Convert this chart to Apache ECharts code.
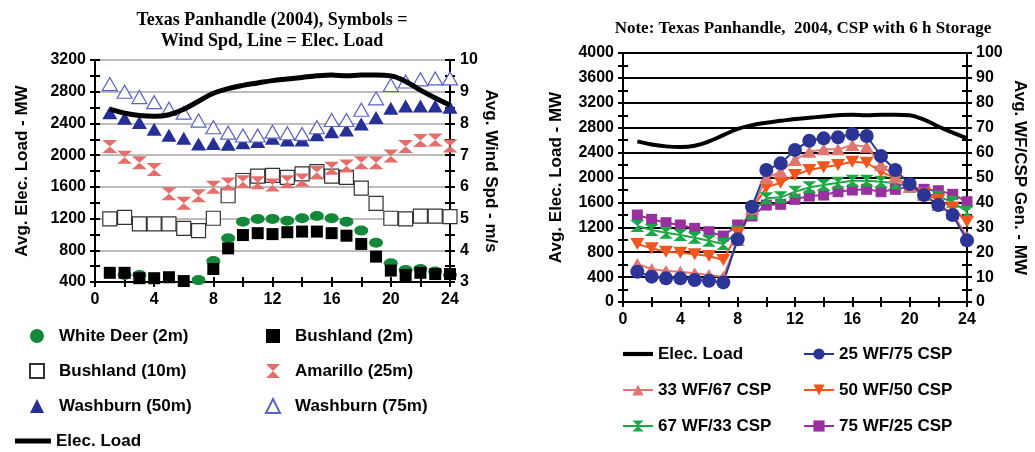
<!DOCTYPE html>
<html>
<head>
<meta charset="utf-8">
<script src="https://cdn.jsdelivr.net/npm/echarts@6/dist/echarts.min.js"></script>
<style>
  html, body { margin: 0; padding: 0; background: #fff; }
  #main { width: 1035px; height: 452px; }
</style>
</head>
<body>
<div id="main"></div>
<script>
var hours = [1,2,3,4,5,6,7,8,9,10,11,12,13,14,15,16,17,18,19,20,21,22,23,24];

// hourly electric load (MW), same curve on both panels
var elecLoad = [2580,2530,2500,2490,2510,2580,2680,2780,2840,2880,2910,2940,2960,2980,3000,3010,3000,3010,3010,3000,2930,2820,2720,2630];

// left panel: wind speed (m/s)
var whiteDeer2m  = [null,3.22,3.22,null,null,null,3.06,3.66,4.38,4.90,4.99,4.99,4.93,5.01,5.08,5.01,4.90,4.62,4.24,3.59,3.38,3.41,3.33,3.22];
var bushland2m   = [3.29,3.29,3.12,3.12,3.15,3.03,null,3.41,4.06,4.48,4.54,4.51,4.57,4.59,4.59,4.54,4.46,4.20,3.80,3.36,3.22,3.29,3.25,3.25];
var bushland10m  = [4.99,5.04,4.83,4.83,4.83,4.69,4.62,5.01,5.72,6.20,6.34,6.36,6.30,6.41,6.48,6.34,6.30,5.96,5.48,5.01,4.99,5.08,5.08,5.06];
var amarillo25m  = [7.27,6.93,6.76,6.55,5.78,5.48,5.72,5.99,6.09,6.16,6.13,6.06,6.16,6.22,6.45,6.59,6.66,6.76,6.76,6.97,7.27,7.46,7.48,7.29];
var washburn50m  = [8.34,8.16,8.03,7.82,7.63,7.53,7.35,7.37,7.34,7.39,7.43,7.53,7.48,7.48,7.64,7.74,7.79,7.98,8.19,8.48,8.55,8.55,8.55,8.51];
var washburn75m  = [9.24,9.00,8.83,8.67,8.46,8.34,8.09,7.88,7.71,7.62,7.62,7.74,7.69,7.67,7.88,8.11,8.11,8.43,8.79,9.21,9.32,9.39,9.42,9.42];

// right panel: WF/CSP generation (MW), CSP with 6 h storage
var wf25csp75 = [487,407,380,380,353,342,315,1007,1531,2120,2227,2441,2591,2629,2645,2698,2666,2345,2120,1895,1718,1558,1397,990];
var wf33csp67 = [610,530,498,487,461,434,407,996,1500,1987,2093,2281,2414,2452,2452,2521,2494,2200,2012,1852,1718,1560,1420,1049];
var wf50csp50 = [931,862,808,792,766,739,675,1113,1489,1842,1916,2040,2120,2163,2200,2253,2237,2093,1987,1842,1746,1638,1520,1290];
var wf67csp33 = [1221,1156,1113,1076,1033,985,931,1129,1424,1665,1681,1772,1842,1879,1916,1948,1948,1932,1906,1852,1746,1691,1611,1450];
var wf75csp25 = [1397,1328,1274,1237,1183,1129,1060,1237,1381,1558,1569,1649,1702,1718,1772,1799,1810,1772,1810,1852,1810,1788,1730,1611];

var hourTicks = { min: 0, max: 24, interval: 4 };

function pairs(vals) {
  return hours.map(function (h, i) { return [h, vals[i]]; });
}

var hourglass = 'path://M0,0L10,0L5,5L10,10L0,10L5,5Z';
var sans = 'Liberation Sans, Arial, sans-serif';
var serif = 'Liberation Serif, Times New Roman, serif';
var lbl = { color: '#000', fontFamily: sans, fontWeight: 'bold', fontSize: 16 };

// value axis; a second copy with inside ticks makes the ticks cross the axis line
function vAxis(o, inside) {
  var ax = {
    type: 'value', gridIndex: o.grid, position: o.pos,
    min: o.min, max: o.max, interval: o.interval,
    axisLine: { show: !inside, lineStyle: { color: '#000', width: 2 } },
    axisTick: { show: true, inside: !!inside, length: 5, lineStyle: { color: '#000', width: 2 } },
    minorTick: { show: true, splitNumber: 2, length: 5, lineStyle: { color: '#000', width: 2 } },
    axisLabel: inside ? { show: false } : Object.assign({
      margin: o.margin || 9, showMinLabel: true, showMaxLabel: true,
      formatter: function (v) { return String(v); }
    }, lbl),
    splitLine: { show: !inside && !!o.split, lineStyle: o.split || {} }
  };
  if (!inside && o.name) {
    ax.name = o.name;
    ax.nameLocation = 'middle';
    ax.nameGap = o.nameGap;
    ax.nameRotate = o.nameRotate;
    ax.nameTextStyle = { color: '#000', fontFamily: sans, fontWeight: 'bold', fontSize: 17 };
  }
  return ax;
}

var leftGrid = { left: 95, right: 585, top: 60, bottom: 170 };
var rightGrid = { left: 623, right: 68, top: 53, bottom: 150 };

var graySplit = { color: '#a6a6a6', width: 1.5 };
var blackSplit = { color: '#000', width: 2.2 };

var xAxes = [], yAxes = [];
[0, 1].forEach(function (g) {
  var xo = Object.assign({ grid: g, pos: 'bottom', margin: 10 }, hourTicks);
  xAxes.push(vAxis(xo, false), vAxis(xo, true));
});
var yDefs = [
  { grid: 0, pos: 'left', min: 400, max: 3200, interval: 400, split: graySplit, name: 'Avg. Elec. Load - MW', nameGap: 64, nameRotate: 90 },
  { grid: 0, pos: 'right', min: 3, max: 10, interval: 1, margin: 10, name: 'Avg. Wind Spd - m/s', nameGap: 32, nameRotate: -90 },
  { grid: 1, pos: 'left', min: 0, max: 4000, interval: 400, split: blackSplit, name: 'Avg. Elec. Load - MW', nameGap: 58, nameRotate: 90 },
  { grid: 1, pos: 'right', min: 0, max: 100, interval: 10, margin: 9, name: 'Avg. WF/CSP Gen. - MW', nameGap: 44, nameRotate: -90 }
];
yDefs.forEach(function (d) { yAxes.push(vAxis(d, false), vAxis(d, true)); });

function windSeries(name, vals, sym, style) {
  return Object.assign({
    name: name, type: 'scatter', xAxisIndex: 0, yAxisIndex: 2,
    data: pairs(vals),
    itemStyle: Object.assign({ opacity: 1 }, style)
  }, sym);
}

function mixSeries(name, vals, color, sym) {
  return Object.assign({
    name: name, type: 'line', xAxisIndex: 2, yAxisIndex: 4,
    data: pairs(vals), showSymbol: true,
    lineStyle: { color: color, width: 2 },
    itemStyle: { color: color }
  }, sym);
}

var loadIcon = 'path://M0,0H36V5H0Z';
function legend(left, top, gap, width, names, pad) {
  return {
    orient: 'vertical', left: left, top: top, itemGap: gap, padding: 0, height: 160,
    itemWidth: width, itemHeight: 14,
    textStyle: { color: '#000', fontFamily: sans, fontWeight: 'bold', fontSize: 17, lineHeight: 20, padding: [0, 0, 0, pad || 0] },
    data: names
  };
}

var option = {
  animation: false,
  backgroundColor: '#fff',
  title: [
    {
      text: 'Texas Panhandle (2004), Symbols =\nWind Spd, Line = Elec. Load',
      left: 267, top: 5, textAlign: 'center',
      textStyle: { fontFamily: serif, fontWeight: 'bold', fontSize: 18, lineHeight: 21, color: '#000' }
    },
    {
      text: 'Note: Texas Panhandle,  2004, CSP with 6 h Storage',
      left: 798, top: 15, textAlign: 'center',
      textStyle: { fontFamily: serif, fontWeight: 'bold', fontSize: 17, color: '#000' }
    }
  ],
  legend: [
    legend(29, 326, 15, 14, ['White Deer (2m)', 'Bushland (10m)', 'Washburn (50m)'], 10),
    legend(15, 431, 15, 36, [{ name: 'Elec. Load', icon: loadIcon }]),
    legend(265, 326, 15, 14, ['Bushland (2m)', 'Amarillo (25m)', 'Washburn (75m)'], 10),
    legend(622, 344, 16, 30, [{ name: 'Elec. Load', icon: loadIcon }, '33 WF/67 CSP', '67 WF/33 CSP']),
    legend(803, 344, 16, 30, ['25 WF/75 CSP', '50 WF/50 CSP', '75 WF/25 CSP'])
  ],
  grid: [leftGrid, rightGrid],
  xAxis: xAxes,
  yAxis: yAxes,
  series: [
    windSeries('White Deer (2m)', whiteDeer2m, { symbol: 'circle', symbolSize: [14, 10] }, { color: '#13873a' }),
    windSeries('Bushland (2m)', bushland2m, { symbol: 'rect', symbolSize: 12 }, { color: '#000' }),
    windSeries('Bushland (10m)', bushland10m, { symbol: 'rect', symbolSize: 14 }, { color: '#fff', borderColor: '#333', borderWidth: 1.2 }),
    windSeries('Amarillo (25m)', amarillo25m, { symbol: hourglass, symbolSize: [15, 13] }, { color: '#e66e6a' }),
    windSeries('Washburn (50m)', washburn50m, { symbol: 'triangle', symbolSize: [15, 13] }, { color: '#252f95' }),
    windSeries('Washburn (75m)', washburn75m, { symbol: 'triangle', symbolSize: [15, 13] }, { color: '#fff', borderColor: '#5b62c8', borderWidth: 1.2 }),
    {
      name: 'Elec. Load', type: 'line', xAxisIndex: 0, yAxisIndex: 0,
      data: pairs(elecLoad), symbol: 'none', smooth: 0.4,
      lineStyle: { color: '#000', width: 5 }, itemStyle: { color: '#000' }, z: 5
    },
    {
      name: 'Elec. Load', type: 'line', xAxisIndex: 2, yAxisIndex: 4,
      data: pairs(elecLoad), symbol: 'none', smooth: 0.4,
      lineStyle: { color: '#000', width: 4 }, itemStyle: { color: '#000' }
    },
    mixSeries('75 WF/25 CSP', wf75csp25, '#9a2f9e', { symbol: 'rect', symbolSize: 11 }),
    mixSeries('67 WF/33 CSP', wf67csp33, '#1ca847', { symbol: hourglass, symbolSize: [14, 12] }),
    mixSeries('50 WF/50 CSP', wf50csp50, '#f2561e', { symbol: 'triangle', symbolRotate: 180, symbolSize: [14, 12] }),
    mixSeries('33 WF/67 CSP', wf33csp67, '#e07670', { symbol: 'triangle', symbolSize: [14, 12] }),
    mixSeries('25 WF/75 CSP', wf25csp75, '#2b3596', { symbol: 'circle', symbolSize: 14 })
  ]
};

var myChart = echarts.init(document.getElementById('main'));
myChart.setOption(option);
</script>
</body>
</html>
